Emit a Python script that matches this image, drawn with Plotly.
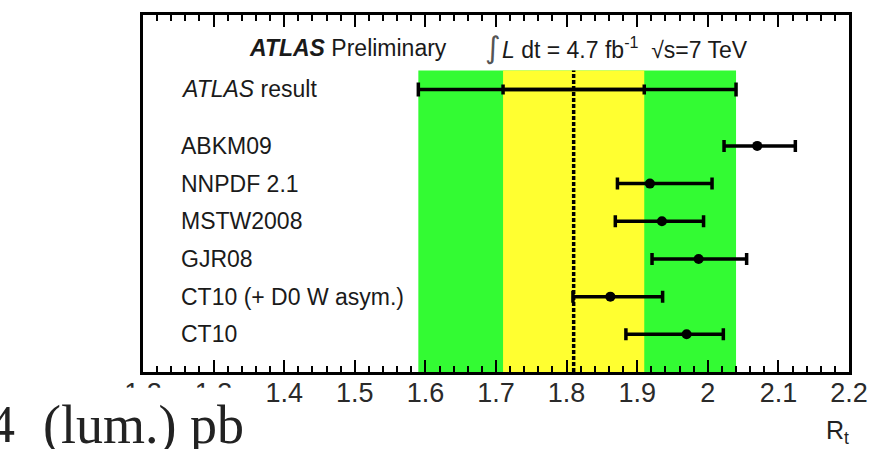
import plotly.graph_objects as go

# ---------------- data ----------------
pdf_names = ["ABKM09", "NNPDF 2.1", "MSTW2008", "GJR08", "CT10 (+ D0 W asym.)", "CT10"]
pdf_rows = [5, 4, 3, 2, 1, 0]
pdf_values = [2.070, 1.918, 1.935, 1.987, 1.862, 1.970]
pdf_err_minus = [0.047, 0.046, 0.066, 0.066, 0.053, 0.086]
pdf_err_plus = [0.054, 0.088, 0.059, 0.068, 0.074, 0.052]

atlas_label = "ATLAS result"
atlas_row = 6.5
atlas_value = 1.81
atlas_stat = 0.10
atlas_tot_minus = 0.22
atlas_tot_plus = 0.23

tick_vals = [1.2, 1.3, 1.4, 1.5, 1.6, 1.7, 1.8, 1.9, 2.0, 2.1, 2.2]
tick_text = ["1.2", "1.3", "1.4", "1.5", "1.6", "1.7", "1.8", "1.9", "2", "2.1", "2.2"]

# ---------------- geometry helpers (pixel -> paper) ----------------
W, H = 880, 449
L, R, T, B = 143, 855, 12, 372


def px(xp):
    return (xp - L) / (R - L)


def py(yp):
    return (B - yp) / (B - T)


GREEN = "#33fb33"
YELLOW = "#ffff30"
FONT = "Liberation Sans, Arial, Helvetica, sans-serif"
SERIF = "Liberation Serif, Times New Roman, serif"

fig = go.Figure()

# ATLAS total uncertainty bar
fig.add_trace(go.Scatter(
    x=[atlas_value], y=[atlas_row], mode="markers",
    marker=dict(size=1, color="rgba(0,0,0,0)"),
    error_x=dict(type="data", symmetric=False, array=[atlas_tot_plus],
                 arrayminus=[atlas_tot_minus], color="black", thickness=3.5, width=7),
    showlegend=False, hoverinfo="skip"))
# ATLAS stat uncertainty bar
fig.add_trace(go.Scatter(
    x=[atlas_value], y=[atlas_row], mode="markers",
    marker=dict(size=1, color="rgba(0,0,0,0)"),
    error_x=dict(type="data", symmetric=True, array=[atlas_stat],
                 color="black", thickness=3.5, width=5),
    showlegend=False, hoverinfo="skip"))

# PDF predictions
fig.add_trace(go.Scatter(
    x=pdf_values, y=pdf_rows, mode="markers",
    marker=dict(size=10, color="black"),
    error_x=dict(type="data", symmetric=False, array=pdf_err_plus,
                 arrayminus=pdf_err_minus, color="black", thickness=3.5, width=6),
    showlegend=False))

shapes = []
band_bottom, band_top = -1.0, 7.0
# green (total) band
shapes.append(dict(type="rect", xref="x", yref="y", layer="below", line_width=0,
                   x0=atlas_value - atlas_tot_minus, x1=atlas_value + atlas_tot_plus,
                   y0=band_bottom, y1=band_top, fillcolor=GREEN))
# yellow (stat) band
shapes.append(dict(type="rect", xref="x", yref="y", layer="below", line_width=0,
                   x0=atlas_value - atlas_stat, x1=atlas_value + atlas_stat,
                   y0=band_bottom, y1=band_top, fillcolor=YELLOW))
# dotted central line
shapes.append(dict(type="line", xref="x", yref="y", layer="above",
                   x0=atlas_value, x1=atlas_value, y0=band_bottom, y1=band_top,
                   line=dict(color="black", width=3.5, dash="4px,2px")))
# white slide box hiding lower part of first tick labels
shapes.append(dict(type="rect", xref="paper", yref="paper", layer="above", line_width=0,
                   x0=px(-5), x1=px(262), y0=py(388), y1=py(455), fillcolor="white"))

annotations = []
for name, row in zip(pdf_names, pdf_rows):
    annotations.append(dict(x=px(179), y=row, xref="paper", yref="y", text=name,
                            showarrow=False, xanchor="left", yanchor="middle",
                            font=dict(family=FONT, size=23, color="#1a1a1a")))
annotations.append(dict(x=px(179), y=atlas_row, xref="paper", yref="y",
                        text="<i>ATLAS</i> result", showarrow=False,
                        xanchor="left", yanchor="middle",
                        font=dict(family=FONT, size=23, color="#1a1a1a")))
# header
annotations.append(dict(x=px(248), y=py(45), xref="paper", yref="paper",
                        text="<b><i>ATLAS</i></b> Preliminary", showarrow=False,
                        xanchor="left", yanchor="middle",
                        font=dict(family=FONT, size=23, color="#1a1a1a")))
annotations.append(dict(x=px(486), y=py(45), xref="paper", yref="paper",
                        text="∫", showarrow=False, xanchor="left", yanchor="middle",
                        font=dict(family="DejaVu Sans, sans-serif", size=30, color="#555555")))
annotations.append(dict(x=px(503), y=py(45), xref="paper", yref="paper",
                        text="<i>L</i> dt = 4.7 fb<sup>-1</sup>  √s=7 TeV", showarrow=False,
                        xanchor="left", yanchor="middle",
                        font=dict(family=FONT, size=23, color="#1a1a1a")))
# axis title
annotations.append(dict(x=px(857), y=py(432), xref="paper", yref="paper",
                        text="R<sub>t</sub>", showarrow=False,
                        xanchor="right", yanchor="middle",
                        font=dict(family=FONT, size=25, color="#222222")))
# slide text fragments
annotations.append(dict(x=px(-14), y=py(425), xref="paper", yref="paper",
                        text="4", showarrow=False,
                        xanchor="left", yanchor="middle",
                        font=dict(family=SERIF, size=52, color="#222222")))
annotations.append(dict(x=px(40), y=py(425), xref="paper", yref="paper",
                        text="(lum.) pb", showarrow=False,
                        xanchor="left", yanchor="middle",
                        font=dict(family=SERIF, size=54, color="#222222")))

fig.update_layout(
    width=W, height=H,
    margin=dict(l=L, r=W - R, t=T, b=H - B, pad=0),
    paper_bgcolor="white", plot_bgcolor="white",
    shapes=shapes, annotations=annotations,
    xaxis=dict(range=[1.2, 2.2], tickvals=tick_vals, ticktext=tick_text,
               ticks="inside", ticklen=12, tickwidth=2, tickcolor="black",
               minor=dict(dtick=0.02, ticks="inside", ticklen=6, tickwidth=2,
                          tickcolor="black"),
               showline=True, linewidth=3, linecolor="black", mirror="ticks",
               showgrid=False, zeroline=False,
               tickfont=dict(family=FONT, size=27, color="#2a2a2a")),
    yaxis=dict(range=[-1.0, 8.474], showticklabels=False, ticks="",
               showline=True, linewidth=3, linecolor="black", mirror=True,
               showgrid=False, zeroline=False),
)

try:
    fig.update_xaxes(ticklabelstandoff=-5)
except Exception:
    pass

fig.write_html("out.html")
